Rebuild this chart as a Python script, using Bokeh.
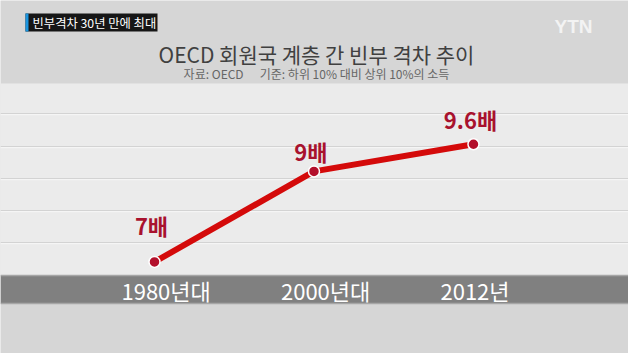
from bokeh.plotting import figure
from bokeh.models import Range1d, BoxAnnotation, Span
from bokeh.core.properties import value
from bokeh.embed import file_html
from bokeh.resources import INLINE

# ---- data ----
periods = ["1980년대", "2000년대", "2012년"]
ratios = [7, 9, 9.6]
value_labels = ["7배", "9배", "9.6배"]
title_text = "OECD 회원국 계층 간 빈부 격차 추이"
subtitle_text = "자료: OECD" + "\u00a0" * 6 + "기준: 하위 10% 대비 상위 10%의 소득"
tag_text = "빈부격차 30년 만에 최대"
logo_text = "YTN"

# ---- layout helpers (pixel -> data for decorations) ----
W, H = 628, 353
X0, X1 = -0.9655, 2.972
Y0, Y1 = 4.976, 12.776


def dx(pix):
    return X0 + pix * (X1 - X0) / W


def dy(pix):
    return Y1 - pix * (Y1 - Y0) / H


KR = value("Noto Sans CJK KR")
xs = list(range(len(periods)))

p = figure(width=W, height=H, x_range=Range1d(X0, X1), y_range=Range1d(Y0, Y1),
           output_backend="svg", toolbar_location=None,
           x_axis_location=None, y_axis_location=None, min_border=0)
p.grid.visible = False
p.outline_line_color = None
p.background_fill_color = "#d6d6d6"
p.border_fill_color = "#d6d6d6"

# background bands
p.add_layout(BoxAnnotation(top=dy(83), bottom=dy(275), fill_color="#ebebeb",
                           fill_alpha=1, line_color=None, level="underlay"))
for gy in [113, 146, 178, 210, 242]:
    p.add_layout(Span(location=dy(gy), dimension="width", line_color="#d3d3d3",
                      line_width=1, level="underlay"))
    p.add_layout(Span(location=dy(gy + 1.2), dimension="width", line_color="#f8f8f8",
                      line_width=1, level="underlay"))
p.add_layout(BoxAnnotation(top=dy(275), bottom=dy(303), fill_color="#808080",
                           fill_alpha=1, line_color=None, level="underlay"))
p.add_layout(Span(location=dy(275), dimension="width", line_color="#a6a6a6",
                  line_width=1.5, level="underlay"))
p.add_layout(Span(location=dy(303), dimension="width", line_color="#a6a6a6",
                  line_width=1.5, level="underlay"))

# tag box
p.add_layout(BoxAnnotation(left=dx(25), right=dx(157), top=dy(13), bottom=dy(31),
                           fill_color="#161616", fill_alpha=1, line_color=None,
                           level="underlay"))
p.add_layout(BoxAnnotation(left=dx(25), right=dx(28), top=dy(13), bottom=dy(31),
                           fill_color="#1b95e0", fill_alpha=1, line_color=None,
                           level="underlay"))
p.text(x=[dx(32)], y=[dy(22.5)], text=[tag_text], text_font=KR,
       text_font_size="12.3px", text_color="white", text_align="left",
       text_baseline="middle")

# logo
p.text(x=[dx(573)], y=[dy(26)], text=[logo_text], text_font=value("Liberation Sans"),
       text_font_size="19px", text_font_style="bold", text_color="#f3f3f3",
       text_align="center", text_baseline="middle")

# title / subtitle
p.text(x=[dx(316)], y=[dy(53)], text=[title_text], text_font=KR,
       text_font_size="21px", text_color="#404040", text_align="center",
       text_baseline="middle")
p.text(x=[dx(316)], y=[dy(73)], text=[subtitle_text], text_font=KR,
       text_font_size="12px", text_color="#666666", text_align="center",
       text_baseline="middle")

# line + markers
p.line(xs, ratios, line_width=6, line_color="#d40a0a")
p.scatter(xs, ratios, size=11, fill_color="#b3102c", line_color="white",
          line_width=1.5)

# value labels
label_dy = [-37, -20, -25]
for i in xs:
    p.text(x=[xs[i]], y=[ratios[i]], text=[value_labels[i]], text_font=KR,
           text_font_size="22px", text_font_style="bold", text_color="#a8122e",
           text_align="center", text_baseline="alphabetic",
           x_offset=-3, y_offset=label_dy[i])

# category labels in the grey bar
p.text(x=xs, y=[dy(289)] * len(xs), text=periods, text_font=KR,
       text_font_size="22px", text_color="white", text_align="left",
       text_baseline="middle", x_offset=-33)

open("out.html", "w").write(file_html(p, INLINE))
